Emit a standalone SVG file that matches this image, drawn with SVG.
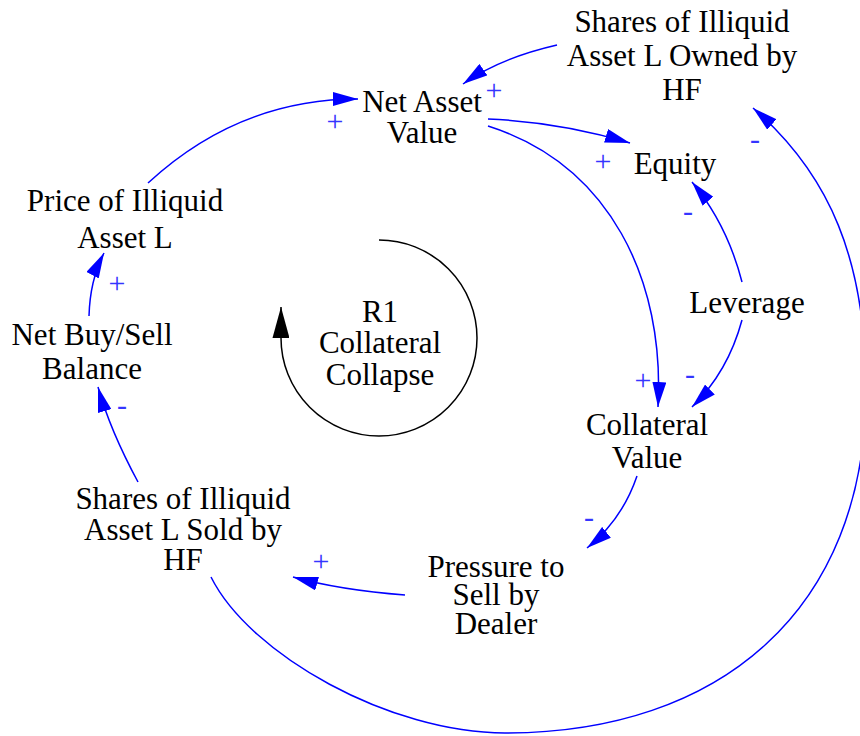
<svg xmlns="http://www.w3.org/2000/svg" width="860" height="736" viewBox="0 0 860 736">
<style>
.t{font-family:"Liberation Serif","Times New Roman",serif;font-size:31px;fill:#000;text-anchor:middle}
.c{fill:none;stroke:#0000ff;stroke-width:1.5}
.p{font-family:"Liberation Serif","Times New Roman",serif;font-size:30px;fill:#3535ff;text-anchor:middle}
</style>
<defs>
<marker id="ab" viewBox="0 0 25 14" refX="25" refY="7" markerWidth="25" markerHeight="14" markerUnits="userSpaceOnUse" orient="auto">
<path d="M0,0 L25,7 L0,14 Z" fill="#0000ff"/>
</marker>
<marker id="ak" viewBox="0 0 31 17" refX="31" refY="8.5" markerWidth="31" markerHeight="17" markerUnits="userSpaceOnUse" orient="auto">
<path d="M0,0 L31,8.5 L0,17 Z" fill="#000"/>
</marker>
</defs>
<rect width="860" height="736" fill="#fff"/>
<g id="connectors">
<path class="c" d="M148,183 Q239,99 358,99" marker-end="url(#ab)"/>
<path class="c" d="M557,45 Q500,58 463,84" marker-end="url(#ab)"/>
<path class="c" d="M488,119 Q560,122 630,143" marker-end="url(#ab)"/>
<path class="c" d="M488,126 C610,165 665,280 658,407" marker-end="url(#ab)"/>
<path class="c" d="M742,282 Q727,224 692,182" marker-end="url(#ab)"/>
<path class="c" d="M742,320 Q728,372 692,407" marker-end="url(#ab)"/>
<path class="c" d="M637,476 Q622,520 587,548" marker-end="url(#ab)"/>
<path class="c" d="M405,595 Q340,590 293,577" marker-end="url(#ab)"/>
<path class="c" d="M138,482 Q110,430 98,387" marker-end="url(#ab)"/>
<path class="c" d="M89,316 Q90,280 104,253" marker-end="url(#ab)"/>
<path class="c" d="M211,577 C250,655 390,733 505,733 C720,733 866,610 866,390 C866,260 830,175 753,108" marker-end="url(#ab)"/>
<path d="M379,240 A98,98 0 1 1 281,338 L281,307" fill="none" stroke="#000" stroke-width="1.5" marker-end="url(#ak)"/>
</g>
<g id="polarities">
<text class="p" x="335" y="131">+</text>
<text class="p" x="494" y="100">+</text>
<text class="p" x="603" y="171">+</text>
<text class="p" x="688" y="221">-</text>
<text class="p" x="643" y="390">+</text>
<text class="p" x="690" y="384">-</text>
<text class="p" x="589" y="527">-</text>
<text class="p" x="321" y="571">+</text>
<text class="p" x="122" y="415">-</text>
<text class="p" x="117" y="293">+</text>
<text class="p" x="755" y="149">-</text>
</g>
<g id="owned"><text class="t" x="682" y="32">Shares of Illiquid</text><text class="t" x="682" y="66">Asset L Owned by</text><text class="t" x="682" y="100">HF</text></g>
<g id="nav"><text class="t" x="422" y="112">Net Asset</text><text class="t" x="422" y="143">Value</text></g>
<g id="equity"><text class="t" x="675" y="174">Equity</text></g>
<g id="price"><text class="t" x="125" y="211">Price of Illiquid</text><text class="t" x="125" y="248">Asset L</text></g>
<g id="netbuy"><text class="t" x="92" y="345">Net Buy/Sell</text><text class="t" x="92" y="379">Balance</text></g>
<g id="leverage"><text class="t" x="747" y="313">Leverage</text></g>
<g id="collateral"><text class="t" x="647" y="435">Collateral</text><text class="t" x="647" y="468">Value</text></g>
<g id="sold"><text class="t" x="183" y="509">Shares of Illiquid</text><text class="t" x="183" y="540">Asset L Sold by</text><text class="t" x="183" y="570">HF</text></g>
<g id="pressure"><text class="t" x="496" y="577">Pressure to</text><text class="t" x="496" y="605">Sell by</text><text class="t" x="496" y="634">Dealer</text></g>
<g id="loop"><text class="t" x="380" y="322">R1</text><text class="t" x="380" y="353">Collateral</text><text class="t" x="380" y="385">Collapse</text></g>
</svg>
